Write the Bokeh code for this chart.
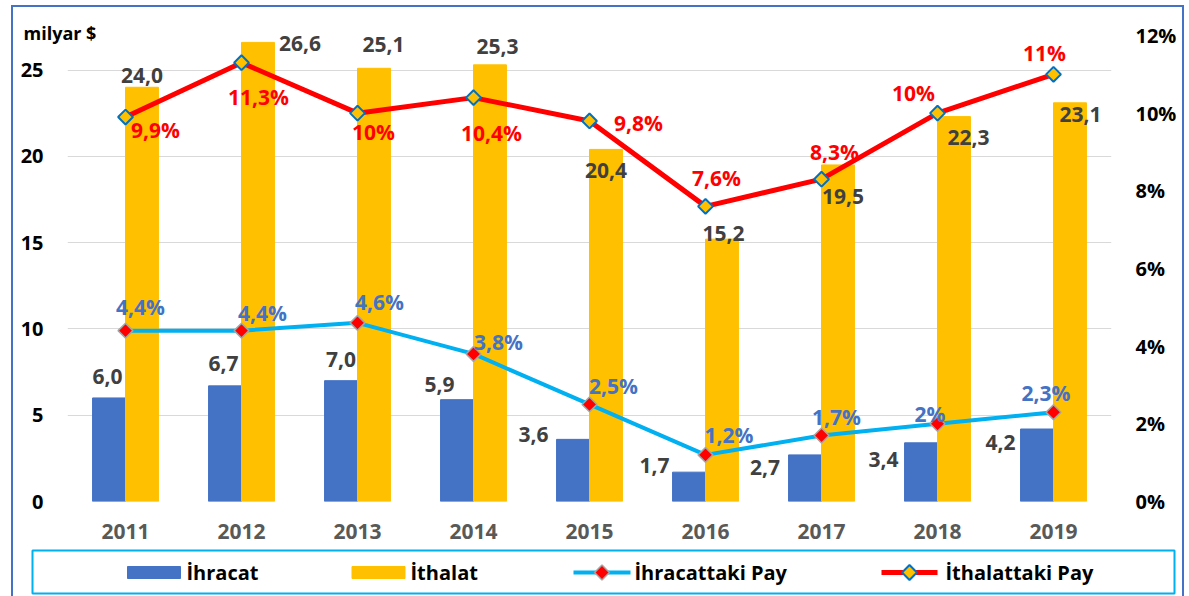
import numpy as np
from bokeh.plotting import figure
from bokeh.models import ColumnDataSource, Range1d, LinearAxis, FixedTicker, PrintfTickFormatter
from bokeh.layouts import column
from bokeh.embed import file_html
from bokeh.resources import INLINE
from bokeh.core.properties import value

# ---------------- data ----------------
years = ["2011", "2012", "2013", "2014", "2015", "2016", "2017", "2018", "2019"]
ihracat = [6.0, 6.7, 7.0, 5.9, 3.6, 1.7, 2.7, 3.4, 4.2]            # milyar $
ithalat = [24.0, 26.6, 25.1, 25.3, 20.4, 15.2, 19.5, 22.3, 23.1]    # milyar $
ihracat_pay = [4.4, 4.4, 4.6, 3.8, 2.5, 1.2, 1.7, 2.0, 2.3]         # %
ithalat_pay = [9.9, 11.3, 10.0, 10.4, 9.8, 7.6, 8.3, 10.0, 11.0]    # %
left_ticks = [0, 5, 10, 15, 20, 25]
right_ticks = [0, 2, 4, 6, 8, 10, 12]
unit_label = "milyar $"
series_names = ["İhracat", "İthalat", "İhracattaki Pay", "İthalattaki Pay"]

# ---------------- label placement (px, +x right, +y down) ----------------
exp_dx = [-1.5, -1.5, 0, -17.5, -39.5, -34.5, -40, -37.5, -36.5]
exp_dy = [-21, -22, -21, -15, -5, -7, 13, 17, 13]
imp_dx = [0, 42, 9.5, 7.5, 0, 1.5, 5, 14.5, 10.5]
imp_dy = [-12, 1, -24, -18, 21, -6, 32, 21, 12]
exps_dx = [15, 21, 22, 25, 24, 23.5, 15, -7.5, -7.5]
exps_dy = [-24, -18, -21, -12, -18, -20, -18, -10, -19]
imps_dx = [30, 17, 16, 18, 49, 11, 13, -24, -9]
imps_dy = [13, 34, 19, 35, 2, -28, -27, -20, -21]

BLUE = "#4472C4"
GOLD = "#FFC000"
CYAN = "#00B0F0"
RED = "#FF0000"
FONTNAME = "Open Sans"
FONT = value(FONTNAME)


def num_lbl(v):
    return f"{v:.1f}".replace(".", ",")


def pct_lbl(v):
    s = f"{v:.0f}%" if abs(v - round(v)) < 1e-9 else f"{v:.1f}%"
    return s.replace(".", ",")


xi = np.arange(1, len(years) + 1)
bw = 0.284

src = ColumnDataSource(dict(
    x=xi, exp_x=xi - bw / 2, imp_x=xi + bw / 2,
    exp=ihracat, imp=ithalat, exp_pay=ihracat_pay, imp_pay=ithalat_pay,
    exp_lbl=[num_lbl(v) for v in ihracat], imp_lbl=[num_lbl(v) for v in ithalat],
    exps_lbl=[pct_lbl(v) for v in ihracat_pay], imps_lbl=[pct_lbl(v) for v in ithalat_pay],
    exp_dx=exp_dx, exp_dy=exp_dy, imp_dx=imp_dx, imp_dy=imp_dy,
    exps_dx=exps_dx, exps_dy=exps_dy, imps_dx=imps_dx, imps_dy=imps_dy,
))

p = figure(width=1169, height=539, x_range=Range1d(0.5, len(years) + 0.5), y_range=Range1d(0, 27),
           output_backend="svg", toolbar_location=None,
           min_border_left=54, min_border_right=71, min_border_top=28, min_border_bottom=45)
p.frame_align = False
p.extra_y_ranges = {"pct": Range1d(0, 12)}
p.outline_line_color = None
p.background_fill_color = "white"
p.border_fill_color = "white"

# unit label shown as a left-aligned title just at the top-left of the frame
p.title.text = unit_label
p.title.align = "left"
p.title.offset = -44
p.title.standoff = -30
p.title.vertical_align = "top"
p.title.text_font = FONTNAME
p.title.text_font_style = "bold"
p.title.text_font_size = "18px"
p.title.text_color = "black"

p.vbar(x="exp_x", top="exp", width=bw, bottom=0, fill_color=BLUE, line_color=BLUE, source=src)
p.vbar(x="imp_x", top="imp", width=bw, bottom=0, fill_color=GOLD, line_color=GOLD, source=src)
p.line("x", "exp_pay", y_range_name="pct", line_color=CYAN, line_width=4, source=src)
p.line("x", "imp_pay", y_range_name="pct", line_color=RED, line_width=5, source=src)
p.scatter("x", "exp_pay", y_range_name="pct", marker="square", angle=np.pi / 4, size=10.5,
          fill_color=RED, line_color="#A5A5A5", line_width=1.5, source=src)
p.scatter("x", "imp_pay", y_range_name="pct", marker="square", angle=np.pi / 4, size=10.5,
          fill_color=GOLD, line_color="#0070C0", line_width=2, source=src)

common = dict(text_align="center", text_baseline="middle", text_font=FONT,
              text_font_style="bold", text_font_size="21px", source=src)
p.text(x="exp_x", y="exp", text="exp_lbl", x_offset="exp_dx", y_offset="exp_dy",
       text_color="#404040", **common)
p.text(x="imp_x", y="imp", text="imp_lbl", x_offset="imp_dx", y_offset="imp_dy",
       text_color="#404040", **common)
p.text(x="x", y="exp_pay", text="exps_lbl", x_offset="exps_dx", y_offset="exps_dy",
       y_range_name="pct", text_color=BLUE, **common)
p.text(x="x", y="imp_pay", text="imps_lbl", x_offset="imps_dx", y_offset="imps_dy",
       y_range_name="pct", text_color=RED, **common)

# axes
def style_axis(ax, color="black", size="20px"):
    ax.axis_line_color = None
    ax.major_tick_line_color = None
    ax.minor_tick_line_color = None
    ax.major_tick_out = 0
    ax.major_tick_in = 0
    ax.major_label_text_font = FONTNAME
    ax.major_label_text_font_style = "bold"
    ax.major_label_text_font_size = size
    ax.major_label_text_color = color

p.xaxis.ticker = FixedTicker(ticks=list(xi))
p.xaxis.major_label_overrides = {int(i): y for i, y in zip(xi, years)}
style_axis(p.xaxis[0], "#595959", "21px")
p.xaxis.major_label_standoff = 22

p.yaxis.ticker = FixedTicker(ticks=left_ticks)
style_axis(p.yaxis[0])
p.yaxis.major_label_standoff = 24

rax = LinearAxis(y_range_name="pct", ticker=FixedTicker(ticks=right_ticks),
                 formatter=PrintfTickFormatter(format="%d%%"))
style_axis(rax)
rax.major_label_standoff = 24
p.add_layout(rax, "right")

p.xgrid.visible = False
p.ygrid.grid_line_color = "#D9D9D9"
p.ygrid.grid_line_width = 1

# ---------------- legend box ----------------
pl = figure(width=1169, height=51, x_range=Range1d(0, 1142), y_range=Range1d(0, 43),
            output_backend="svg", toolbar_location=None,
            x_axis_location=None, y_axis_location=None,
            min_border_left=19, min_border_right=8, min_border_top=4, min_border_bottom=4)
pl.frame_align = False
pl.grid.visible = False
pl.outline_line_color = CYAN
pl.outline_line_width = 2
ly = 21
pl.rect(x=[121.5], y=[ly], width=53, height=12, fill_color=BLUE, line_color=BLUE)
pl.rect(x=[346], y=[ly], width=53, height=12, fill_color=GOLD, line_color=GOLD)
pl.line(x=[541, 598], y=[ly, ly], line_color=CYAN, line_width=4)
pl.scatter(x=[569.5], y=[ly], marker="square", angle=np.pi / 4, size=10.5,
           fill_color=RED, line_color="#A5A5A5", line_width=1.5)
pl.line(x=[849, 905], y=[ly, ly], line_color=RED, line_width=5)
pl.scatter(x=[877], y=[ly], marker="square", angle=np.pi / 4, size=10.5,
           fill_color=GOLD, line_color="#0070C0", line_width=2)
pl.text(x=[154, 378, 602, 913], y=[ly] * 4, text=series_names, text_align="left",
        text_baseline="middle", text_font=FONT, text_font_style="bold",
        text_font_size="20px", text_color="black")

layout = column(p, pl, spacing=0, styles={
    "margin-top": "5px", "margin-left": "11px", "margin-bottom": "-20px",
    "border-left": "2px solid #4472C4", "border-top": "2px solid #4472C4",
    "border-right": "2px solid #4472C4",
})

open("out.html", "w").write(file_html(layout, INLINE))
